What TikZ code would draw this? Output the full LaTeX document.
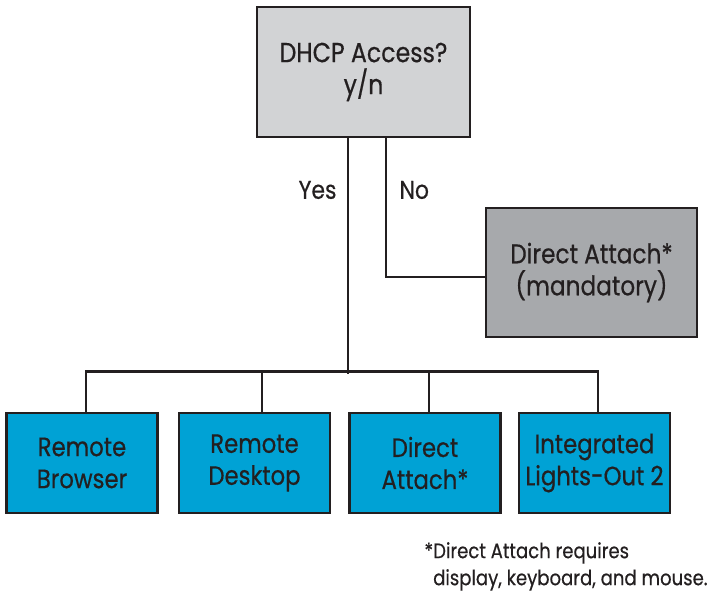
\documentclass[tikz,border=0pt]{standalone}
\usepackage{fontspec}
\setmainfont{Poppins}[FakeStretch=0.86,FakeBold=0.5]
\usetikzlibrary{positioning}
\definecolor{boxgray}{HTML}{D2D3D5}
\definecolor{darkgray}{HTML}{A7A9AC}
\definecolor{hpblue}{HTML}{00A2D5}
\definecolor{inkblack}{HTML}{231F20}
\begin{document}
\begin{tikzpicture}[x=1pt,y=-1pt]
		\tikzstyle box_style=[draw=inkblack,line width=2.6pt,rectangle,align=center,text=inkblack,font=\fontsize{26.5}{32}\selectfont,inner sep=0pt];
		\tikzstyle conn_style=[draw=inkblack,line width=2.6pt];
		\tikzstyle label_style=[text=inkblack,font=\fontsize{25.5}{32}\selectfont];
		\useasboundingbox (0,0) rectangle (717,602);

		%QUESTION BOX
		\node[style=box_style,fill=boxgray,minimum width=213pt,minimum height=130pt,font=\fontsize{27.5}{32}\selectfont] (dhcp) at (363.5,72) {DHCP Access?\\y/n};

		%MANDATORY BOX
		\node[style=box_style,fill=darkgray,minimum width=211pt,minimum height=129pt,font=\fontsize{27}{32}\selectfont] (mandatory) at (591.5,272.5) {Direct Attach*\\(mandatory)};

		%CHOICE BOXES
		\foreach \name/\x/\txt in {browser/82/Remote\\Browser, desktop/254.5/Remote\\Desktop, attach/425/Direct\\Attach*, ilo/594.5/Integrated\\Lights-Out 2}
			\node[style=box_style,fill=hpblue,minimum width=151pt,minimum height=100pt] (\name) at (\x,463) {\txt};

		%YES BRANCH
		\draw[style=conn_style] ([xshift=-15.5pt]dhcp.south) -- ++(0,236) coordinate (hub);
		\draw[style=conn_style] ([xshift=4pt]browser.north) -- ++(0,-40) -| ([xshift=3.5pt]ilo.north);
		\draw[style=conn_style] ([xshift=7.5pt]desktop.north) -- ++(0,-40);
		\draw[style=conn_style] ([xshift=4pt]attach.north) -- ++(0,-40);
		\node[style=label_style,anchor=east] (yes) at (340,190) {Yes};

		%NO BRANCH
		\draw[style=conn_style] ([xshift=22.5pt]dhcp.south) |- ([yshift=-4.5pt]mandatory.west);
		\node[style=label_style,anchor=west] (no) at (396,190) {No};

		%FOOTNOTE
		\node[text=inkblack,font=\fontsize{21}{27}\selectfont,align=left,anchor=north west,inner sep=0pt] (note) at (433,542)
			{\makebox[0pt][r]{*}Direct Attach requires\\display, keyboard, and mouse.};
\end{tikzpicture}
\end{document}
